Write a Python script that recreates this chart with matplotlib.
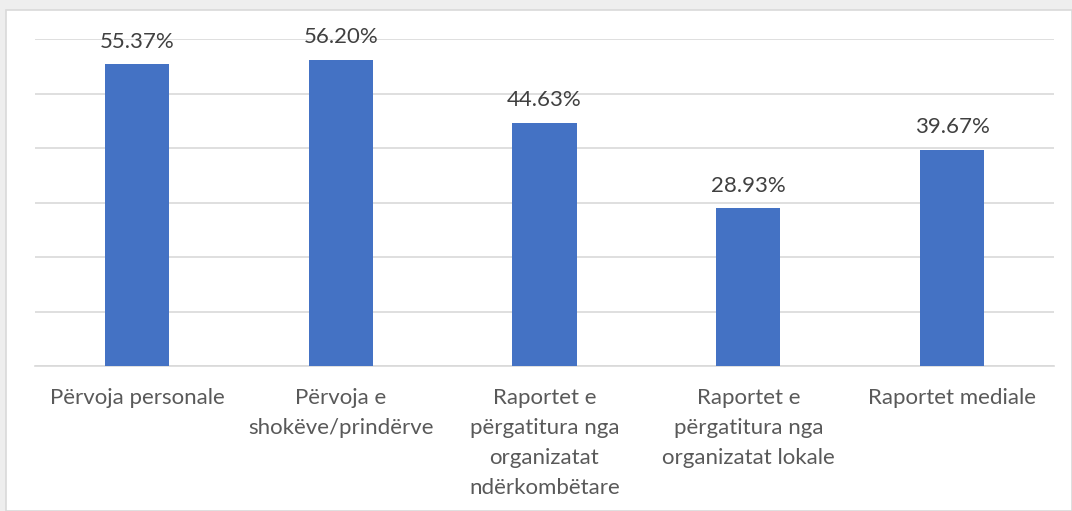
import matplotlib.pyplot as plt
import matplotlib.patches as patches
import numpy as np

plt.rcParams['font.family'] = ['Lato', 'DejaVu Sans']

categories = ['Përvoja personale',
              'Përvoja e\nshokëve/prindërve',
              'Raportet e\npërgatitura nga\norganizatat\nndërkombëtare',
              'Raportet e\npërgatitura nga\norganizatat lokale',
              'Raportet mediale']
values = [55.37, 56.20, 44.63, 28.93, 39.67]

text_color = '#595959'
bar_color = '#4472C4'

fig = plt.figure(figsize=(10.72, 5.11), dpi=100)
fig.patch.set_facecolor('#eeeeee')
# white chart area with a light border
fig.add_artist(patches.Rectangle((6 / 1072, 0), 1 - 6 / 1072, 1 - 10 / 511,
                                 transform=fig.transFigure, facecolor='white',
                                 edgecolor='#d9d9d9', linewidth=1.2, zorder=0))

ax = fig.add_axes([35 / 1072, 145 / 511, 1019 / 1072, 327 / 511])
ax.set_facecolor('none')
x = np.arange(len(categories))
bars = ax.bar(x, values, width=0.315, color=bar_color, zorder=3)

ax.set_xlim(-0.5, len(categories) - 0.5)
ax.set_ylim(0, 60)
ax.set_yticks(np.arange(0, 61, 10))
ax.yaxis.grid(True, color='#d9d9d9', linewidth=1.2, zorder=0)
ax.tick_params(axis='y', left=False, labelleft=False)
ax.tick_params(axis='x', bottom=False, pad=12)
for s in ['top', 'right', 'left']:
    ax.spines[s].set_visible(False)
ax.spines['bottom'].set_color('#d9d9d9')
ax.spines['bottom'].set_linewidth(1.2)

ax.set_xticks(x)
ax.set_xticklabels(categories, fontsize=16, color=text_color, va='top',
                   linespacing=1.64)

for b, v in zip(bars, values):
    ax.annotate(f'{v:.2f}%', (b.get_x() + b.get_width() / 2, v),
                xytext=(0, 9), textcoords='offset points', ha='center',
                va='bottom', fontsize=16, color='#404040')

fig.savefig('out.png', dpi=100, facecolor=fig.get_facecolor())
